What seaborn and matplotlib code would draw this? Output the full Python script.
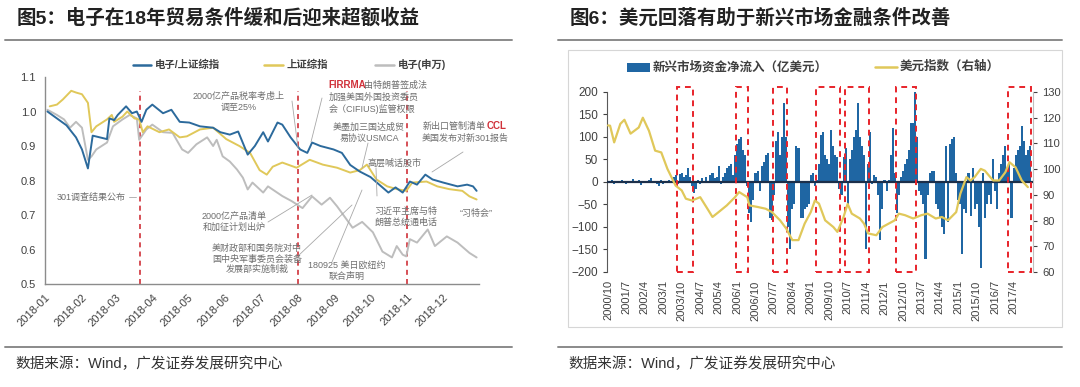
import numpy as np
import pandas as pd
import matplotlib
matplotlib.use('Agg')
import matplotlib.pyplot as plt
from matplotlib.patches import Rectangle
from matplotlib.lines import Line2D
import seaborn as sns

# ---------------- Fig 5: 2018 lines (normalised to 1.0) ----------------
ratio_dates = ['2018-01-03', '2018-01-11', '2018-01-19', '2018-01-27', '2018-02-01', '2018-02-06',
               '2018-02-10', '2018-02-16', '2018-02-22', '2018-02-24', '2018-02-28', '2018-03-03',
               '2018-03-10', '2018-03-15', '2018-03-19', '2018-03-23', '2018-03-27', '2018-04-01',
               '2018-04-10', '2018-04-17', '2018-04-24', '2018-05-02', '2018-05-11', '2018-05-22',
               '2018-05-28', '2018-06-05', '2018-06-12', '2018-06-20', '2018-06-26', '2018-07-03',
               '2018-07-07', '2018-07-15', '2018-07-19', '2018-07-26', '2018-08-03', '2018-08-09',
               '2018-08-13', '2018-08-20', '2018-08-31', '2018-09-07', '2018-09-14', '2018-09-22',
               '2018-10-01', '2018-10-10', '2018-10-16', '2018-10-22', '2018-10-28', '2018-11-03',
               '2018-11-09', '2018-11-16', '2018-11-22', '2018-12-01', '2018-12-13', '2018-12-21',
               '2018-12-26', '2018-12-29']
ratio_vals = [1.0, 0.98, 0.96, 0.925, 0.89, 0.835, 0.93, 0.925, 0.92, 0.98, 0.975, 0.99,
              1.015, 0.995, 1.0, 0.97, 1.005, 1.02, 0.995, 1.005, 0.97, 0.968, 0.957, 0.953,
              0.94, 0.933, 0.942, 0.875, 0.9, 0.94, 0.913, 0.968, 0.962, 0.925, 0.89, 0.88,
              0.91, 0.9, 0.89, 0.88, 0.845, 0.826, 0.81, 0.783, 0.765, 0.78, 0.765, 0.797,
              0.788, 0.817, 0.803, 0.794, 0.783, 0.788, 0.783, 0.77]

sh_dates = ['2018-01-05', '2018-01-11', '2018-01-16', '2018-01-23', '2018-01-27', '2018-02-01',
            '2018-02-06', '2018-02-09', '2018-02-13', '2018-02-22', '2018-02-26', '2018-02-28',
            '2018-03-07', '2018-03-11', '2018-03-17', '2018-03-21', '2018-03-24', '2018-03-28',
            '2018-04-07', '2018-04-15', '2018-04-24', '2018-04-30', '2018-05-11', '2018-05-22',
            '2018-06-02', '2018-06-13', '2018-06-22', '2018-06-30', '2018-07-06', '2018-07-11',
            '2018-07-19', '2018-07-31', '2018-08-11', '2018-08-22', '2018-09-03', '2018-09-14',
            '2018-09-22', '2018-09-28', '2018-10-06', '2018-10-15', '2018-10-23', '2018-10-31',
            '2018-11-05', '2018-11-17', '2018-11-26', '2018-12-06', '2018-12-17', '2018-12-23',
            '2018-12-29']
sh_vals = [1.015, 1.02, 1.035, 1.06, 1.055, 1.05, 1.025, 0.94, 0.957, 0.977, 0.99, 0.97,
           0.985, 1.0, 0.98, 0.977, 0.94, 0.957, 0.94, 0.948, 0.925, 0.928, 0.948, 0.953,
           0.92, 0.9, 0.88, 0.83, 0.817, 0.84, 0.852, 0.837, 0.86, 0.846, 0.837, 0.823,
           0.83, 0.846, 0.803, 0.783, 0.775, 0.77, 0.794, 0.797, 0.783, 0.775, 0.77, 0.754,
           0.745]

elec_dates = ['2018-01-03', '2018-01-11', '2018-01-17', '2018-01-22', '2018-01-27', '2018-02-01',
              '2018-02-06', '2018-02-09', '2018-02-13', '2018-02-22', '2018-02-27', '2018-03-07',
              '2018-03-13', '2018-03-19', '2018-03-21', '2018-03-27', '2018-04-01', '2018-04-10',
              '2018-04-18', '2018-04-26', '2018-05-01', '2018-05-08', '2018-05-17', '2018-05-22',
              '2018-05-25', '2018-05-30', '2018-06-05', '2018-06-11', '2018-06-16', '2018-06-20',
              '2018-06-24', '2018-07-03', '2018-07-07', '2018-07-19', '2018-07-27', '2018-08-05',
              '2018-08-13', '2018-08-21', '2018-08-28', '2018-09-03', '2018-09-16', '2018-09-24',
              '2018-10-03', '2018-10-11', '2018-10-19', '2018-10-23', '2018-10-28', '2018-10-31',
              '2018-11-03', '2018-11-09', '2018-11-18', '2018-11-24', '2018-12-04', '2018-12-13',
              '2018-12-23', '2018-12-29']
elec_vals = [1.005, 0.99, 0.977, 0.953, 0.97, 0.953, 0.86, 0.87, 0.89, 0.91, 0.957, 0.977,
             0.99, 0.98, 0.918, 0.948, 0.962, 0.94, 0.938, 0.89, 0.88, 0.905, 0.925, 0.9,
             0.918, 0.87, 0.855, 0.832, 0.808, 0.774, 0.794, 0.765, 0.783, 0.755, 0.74, 0.72,
             0.754, 0.73, 0.75, 0.725, 0.663, 0.68, 0.65, 0.594, 0.577, 0.61, 0.585, 0.58,
             0.63, 0.62, 0.658, 0.61, 0.638, 0.62, 0.59, 0.577]

event_dates = ['2018-03-22', '2018-08-01', '2018-11-01']
month_ticks = pd.date_range('2018-01-01', '2018-12-01', freq='MS')

# ---------------- Fig 6: EM flows vs dollar index ----------------
months = pd.period_range('2000-10', '2017-12', freq='M')
em_flows = [3, -2, 4, -5, 2, 1, -3, 5, 2, -4, 3, -2, 6, 1, -3, 4, -6, 2, 3, -2, 5, 8, -3, 2,
            -5, -8, 4, -4, 3, -2, 5, -3,
            10, 15, -5, 18, 20, 12, 15, 30, 12,
            -10, -25, -15, 5, -5, 8, 3, 10, -3,
            15, 20, 8, 10, 35, -5, 12, 20, 30, 35,
            40, 15, 60, 85, 95, 100, 70, 60, -10, -70,
            -90, -40, 20, 25, -20, 35, 45, 60, 65, -80,
            -85, -30, 90, 110, 60, 100, 175, 100, -100, -150,
            -60, -50, 80, 75, -80, -80, -60, -55, -50, 15,
            20, -10, 5, 40, 105, 110, 60, 50, 40, 115,
            80, 60, 55, -15, -30, 55, 75, -50, 50, 70,
            100, 115, 175, 100, 80, 60, -150, 40, 110, -5,
            15, 10, -30, -130, -60, 5, -20, 5, 60, 120,
            20, -70, -30, 10, 25, 40, 50, 70, 130, 130,
            200, 100, -20, -30, -50, -170, -30, 20, 25, 25,
            -50, -60, -80, -100, -115, 80, -90, 85, 95, 100,
            20, -40, -50, -160, -60, -70, 20, -75, 30, -60,
            -50, -100, -190, 20, -80, -50, -30, -50, 50, -20,
            -60, 20, 40, 60, 80, 30, 40, -80, 30, 60,
            70, 80, 125, 90, 60, 70, 80]

dxy_month = [0, 1, 3, 6, 8, 11, 15, 17, 20, 23, 26, 29, 33, 36, 38, 41, 45, 49, 51, 54, 58,
             62, 64, 68, 69, 73, 77, 80, 84, 87, 90, 93, 96, 99, 101, 103, 106, 110, 112,
             115, 117, 119, 123, 125, 127, 131, 134, 137, 140, 142, 145, 149, 153, 156,
             160, 163, 166, 170, 172, 175, 177, 179, 182, 184, 188, 191, 194, 196, 199,
             202, 205]
dxy_vals = [117, 116.9, 110.4, 117.6, 119.2, 113.8, 116.2, 120, 114.9, 107.2, 106.5, 100.1,
            93.6, 91.7, 88.5, 87.8, 89.1, 84, 81.4, 83.3, 85.9, 89.1, 91.1, 89.1, 85.9, 85.3,
            84.6, 83.3, 80.1, 76.9, 72.4, 72.4, 78.8, 83.3, 87.8, 86.6, 80.1, 77.5, 75.6,
            81.4, 86.5, 82.7, 80.8, 78.8, 75, 74.3, 77.5, 78.8, 80.1, 82.7, 82.1, 80.8,
            82.1, 82.7, 80.8, 81.4, 80.1, 83.3, 90.4, 96.9, 95.6, 96.9, 100.1, 99.4, 95.6,
            95.6, 98.8, 102.7, 100.7, 95.6, 93]

box_start = ['2003/8', '2006/1', '2007/7', '2009/4', '2010/6', '2012/7', '2017/2']
box_end = ['2004/3', '2006/6', '2008/1', '2010/3', '2011/5', '2013/4', '2017/12']

# ---------------- style ----------------
sns.set_style('white')
plt.rcParams['font.family'] = ['Liberation Sans', 'Noto Sans CJK SC', 'DejaVu Sans']

W, H = 1080, 387
BLUE, YELLOW, GREY, RED = '#2C6A9C', '#E0C85A', '#BDBDBD', '#D0313A'
TXT, ANN = '#333333', '#6E6E6E'


def fx(x):
    return x / W


def fy(y):
    return 1 - y / H


fig = plt.figure(figsize=(W / 100, H / 100), dpi=100)

# titles, rules and footers
for x0, x1, title in [(5, 512, '图5：电子在18年贸易条件缓和后迎来超额收益'),
                      (558, 1062, '图6：美元回落有助于新兴市场金融条件改善')]:
    fig.text(fx(x0 + 12), fy(18), title, fontsize=14, fontweight='bold', color='#222222',
             va='center', ha='left')
    fig.add_artist(Line2D([fx(x0), fx(x1)], [fy(40), fy(40)], color='#8A8A8A', lw=1.4))
    fig.add_artist(Line2D([fx(x0), fx(x1)], [fy(347), fy(347)], color='#8A8A8A', lw=1.4))
    fig.text(fx(x0 + 10), fy(364), '数据来源：Wind，广发证券发展研究中心', fontsize=10.5,
             color=TXT, va='center', ha='left')

# ---------------- left panel ----------------
ax = fig.add_axes([fx(45), fy(284), (479 - 45) / W, (284 - 77) / H])
left = pd.concat([
    pd.DataFrame({'date': pd.to_datetime(elec_dates), 'val': elec_vals, 's': '电子(申万)'}),
    pd.DataFrame({'date': pd.to_datetime(sh_dates), 'val': sh_vals, 's': '上证综指'}),
    pd.DataFrame({'date': pd.to_datetime(ratio_dates), 'val': ratio_vals, 's': '电子/上证综指'}),
])
sns.lineplot(data=left, x='date', y='val', hue='s', ax=ax, legend=False,
             palette={'电子(申万)': GREY, '上证综指': YELLOW, '电子/上证综指': BLUE},
             linewidth=1.4)
for d in event_dates:
    ax.vlines(pd.Timestamp(d), 0.5, 1.058, colors=RED, linestyles=(0, (3, 2.5)), lw=1.2, zorder=1)
ax.set_xlim(pd.Timestamp('2018-01-01'), pd.Timestamp('2018-12-31'))
ax.set_ylim(0.5, 1.1)
ax.set_yticks(np.arange(0.5, 1.11, 0.1))
ax.set_yticklabels([f'{v:.1f}' for v in np.arange(0.5, 1.11, 0.1)])
ax.set_xticks(month_ticks)
ax.set_xticklabels([d.strftime('%Y-%m') for d in month_ticks], rotation=45, ha='right',
                   rotation_mode='anchor')
ax.set_xlabel('')
ax.set_ylabel('')
ax.tick_params(axis='both', labelsize=8, colors='#404040', length=3, direction='out')
ax.tick_params(axis='x', pad=3)
for s in ['top', 'right']:
    ax.spines[s].set_visible(False)
for s in ['left', 'bottom']:
    ax.spines[s].set_color('#8C8C8C')
    ax.spines[s].set_linewidth(1.0)

# left legend
for (x1, x2, tx, col, lab) in [(133, 151, 155, BLUE, '电子/上证综指'),
                               (264, 283, 287, YELLOW, '上证综指'),
                               (375, 394, 398, GREY, '电子(申万)')]:
    fig.add_artist(Line2D([fx(x1), fx(x2)], [fy(65), fy(65)], color=col, lw=1.8))
    fig.text(fx(tx), fy(65), lab, fontsize=7.5, fontweight='bold', color='#404040',
             va='center', ha='left')

# left annotations
ann = dict(fontsize=6.5, color=ANN, va='center', linespacing=1.25)
fig.text(fx(239), fy(102), '2000亿产品税率考虑上\n调至25%', ha='center', **ann)
fig.text(fx(328), fy(85), 'FIRRMA', fontsize=7, fontweight='bold', color=RED, va='center', ha='left')
fig.text(fx(364), fy(85), '由特朗普签成法', ha='left', **ann)
fig.text(fx(329), fy(103.5), '加强美国外国投资委员\n会（CIFIUS)监管权限', ha='left', **ann)
fig.text(fx(369), fy(133), '美墨加三国达成贸\n易协议USMCA', ha='center', **ann)
fig.text(fx(423), fy(126), '新出口管制清单', ha='left', **ann)
fig.text(fx(487), fy(126), 'CCL', fontsize=7, fontweight='bold', color=RED, va='center', ha='left')
fig.text(fx(422), fy(138), '美国发布对新301报告', ha='left', **ann)
fig.text(fx(367), fy(163), '高层喊话股市', ha='left', **ann)
fig.text(fx(57), fy(197), '301调查结果公布', ha='left', **ann)
fig.text(fx(234), fy(222), '2000亿产品清单\n和加征计划出炉', ha='center', **ann)
fig.text(fx(257), fy(259), '美财政部和国务院对中\n国中央军事委员会装备\n发展部实施制裁', ha='center', **ann)
fig.text(fx(347), fy(271), '180925 美日欧纽约\n联合声明', ha='center', **ann)
fig.text(fx(406), fy(217), '习近平主席与特\n朗普总统通电话', ha='center', **ann)
fig.text(fx(476), fy(213), '“习特会”', ha='center', **ann)
for (xa, ya, xb, yb) in [(292, 101, 298, 148), (322, 98, 311, 142), (368, 143, 362, 168),
                         (463, 152, 432, 172), (129, 197, 136, 197), (268, 222, 312, 195),
                         (298, 256, 352, 205), (332, 262, 362, 190), (376, 168, 377, 196)]:
    fig.add_artist(Line2D([fx(xa), fx(xb)], [fy(ya), fy(yb)], color='#A8A8A8', lw=0.6))

# ---------------- right panel ----------------
fig.add_artist(Rectangle((fx(568), fy(327)), (1062 - 568) / W, (327 - 50) / H,
                         transform=fig.transFigure, fill=False, edgecolor='#D6D6D6', lw=0.8))
ax2 = fig.add_axes([fx(607), fy(272), (1033 - 607) / W, (272 - 92) / H])
m_idx = np.arange(len(months))
sns.barplot(x=m_idx, y=em_flows, native_scale=True, color='#1F66A3', saturation=1,
            width=1.0, linewidth=0, errorbar=None, ax=ax2)
ax2.axhline(0, color='#1C2F4A', lw=1.6, zorder=3)
ax2.set_xlim(-0.5, 207.5)
ax2.set_ylim(-200, 200)
ax2.set_yticks(range(-200, 201, 50))
tick_pos = m_idx[::9]
ax2.set_xticks(tick_pos)
ax2.set_xticklabels([f'{months[i].year}/{months[i].month}' for i in tick_pos], rotation=90)
ax2.tick_params(axis='x', length=0, pad=6, labelsize=8, colors='#404040')
ax2.tick_params(axis='y', length=3, direction='out', labelsize=8.5, colors='#404040')
for s in ['top', 'right', 'bottom']:
    ax2.spines[s].set_visible(False)
ax2.spines['left'].set_color('#595959')

lab2idx = {f'{p.year}/{p.month}': i for i, p in enumerate(months)}
for a, b in zip(box_start, box_end):
    i0, i1 = lab2idx[a] - 0.5, lab2idx[b] + 0.5
    ax2.add_patch(Rectangle((i0, -200), i1 - i0, 410, fill=False, edgecolor='#E8232A',
                            lw=1.4, linestyle=(0, (3, 2.5)), clip_on=False, zorder=5))

ax3 = ax2.twinx()
sns.lineplot(x=dxy_month, y=dxy_vals, ax=ax3, color=YELLOW, lw=1.6)
ax3.set_ylim(60, 130)
ax3.set_yticks(range(60, 131, 10))
ax3.tick_params(axis='y', length=3, direction='out', labelsize=8, colors='#404040')
for s in ['top', 'left', 'bottom']:
    ax3.spines[s].set_visible(False)
ax3.spines['right'].set_color('#BFBFBF')
ax3.set_ylabel('')

# right legend
fig.add_artist(Rectangle((fx(627), fy(72)), 23 / W, 9 / H, transform=fig.transFigure,
                         facecolor='#1F66A3', edgecolor='none'))
fig.text(fx(653), fy(67), '新兴市场资金净流入（亿美元）', fontsize=9, fontweight='bold',
         color='#404040', va='center', ha='left')
fig.add_artist(Line2D([fx(875), fx(897)], [fy(67), fy(67)], color=YELLOW, lw=1.8))
fig.text(fx(900), fy(67), '美元指数（右轴）', fontsize=9, fontweight='bold',
         color='#404040', va='center', ha='left')

fig.savefig('out.png', dpi=100)
